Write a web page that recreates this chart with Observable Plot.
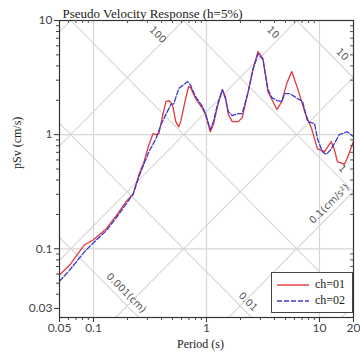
<!DOCTYPE html>
<html>
<head>
<meta charset="utf-8">
<script src="https://cdn.jsdelivr.net/npm/d3@7"></script>
<script src="https://cdn.jsdelivr.net/npm/@observablehq/plot@0.6"></script>
<style>
  html, body { margin: 0; padding: 0; background: #fff; }
  #wrap { position: relative; width: 360px; height: 356px; overflow: hidden; }
  #wrap > svg { display: block; }
  #legend { position: absolute; left: 271px; top: 272px; width: 80px; height: 39px; border: 1px solid #444; background: #fff; font-family: "Liberation Serif", serif; font-size: 12px; color: #222; }
  #legend .row { position: absolute; left: 4px; display: flex; align-items: center; }
  #legend svg { margin-right: 5px; }
</style>
</head>
<body>
<div id="wrap"></div>
<script>
// Data
const title = "Pseudo Velocity Response (h=5%)";
const xLabel = "Period (s)";
const yLabel = "pSv (cm/s)";
const seriesNames = ["ch=01", "ch=02"];

const periods01 = [0.05,0.0615,0.083,0.1,0.13,0.159,0.195,0.224,0.253,0.28,0.31,0.336,0.357,0.379,0.411,0.437,0.464,0.5,0.535,0.568,0.591,0.654,0.695,0.724,0.801,0.922,0.98,1.08,1.15,1.25,1.38,1.47,1.56,1.69,1.91,2.07,2.34,2.58,2.86,3.16,3.5,3.87,4.2,4.64,5.13,5.68,6.41,7.39,8.51,9.6,11.1,12.7,13.5,14.4,16.6,17.6,20];
const psv01 = [0.059,0.072,0.108,0.12,0.15,0.195,0.26,0.303,0.45,0.58,0.82,1.02,1.0,1.02,1.5,1.95,1.99,1.83,1.3,1.17,1.3,2.07,2.64,2.58,2.07,1.69,1.5,1.06,1.22,1.76,2.48,2.15,1.5,1.3,1.3,1.41,2.38,3.79,5.35,4.64,2.38,1.95,1.66,1.95,2.8,3.57,2.53,1.59,1.13,0.75,0.71,0.87,0.75,0.58,0.55,0.62,0.87];

const periods02 = [0.05,0.0615,0.083,0.1,0.13,0.159,0.195,0.224,0.253,0.28,0.31,0.357,0.395,0.437,0.483,0.514,0.568,0.628,0.681,0.724,0.801,0.922,0.98,1.08,1.15,1.25,1.38,1.47,1.56,1.69,1.91,2.07,2.34,2.58,2.86,3.16,3.5,3.79,4.2,4.64,4.93,5.46,6.41,7.1,7.85,9.04,9.6,10.6,11.5,12.7,15.0,17.6,20];
const psv02 = [0.052,0.065,0.094,0.113,0.144,0.187,0.248,0.3,0.43,0.557,0.71,0.92,1.22,1.5,1.83,1.87,2.53,2.75,2.92,2.69,2.15,1.76,1.53,1.11,1.3,1.83,2.48,2.07,1.59,1.47,1.53,1.53,2.38,3.72,5.13,4.54,2.48,2.11,1.99,1.95,2.29,2.29,2.07,1.95,1.3,1.25,0.92,0.71,0.67,0.75,1.0,1.06,0.96];

const xMajor = [0.05, 0.1, 1, 10, 20];
const xMajorLabels = ["0.05", "0.1", "1", "10", "20"];
const yMajor = [0.03, 0.1, 1, 10];
const yMajorLabels = ["0.03", "0.1", "1", "10"];
const xGrid = [0.1, 1, 10];
const yGrid = [0.1, 1];
const dispValues = [0.001, 0.01, 0.1, 1, 10];        // cm
const accValues = [0.01, 0.1, 1, 10, 100, 1000];      // cm/s^2

// diagonal labels: text, family ("A" acceleration / "D" displacement), value, period where it sits
const diagText = ["100", "10", "0.1(cm/s\u00B2)", "10", "1", "0.01", "0.001(cm)"];
const diagKind = ["A", "A", "A", "D", "D", "D", "D"];
const diagValue = [100, 10, 0.1, 10, 1, 0.01, 0.001];
const diagPeriod = [0.37, 3.87, 12.2, 15.9, 15.9, 2.33, 0.195];

const xDomain = [0.05, 20];
const yDomain = [0.025, 10];

// build tables
const s01 = periods01.map((t, i) => ({T: t, v: psv01[i]}));
const s02 = periods02.map((t, i) => ({T: t, v: psv02[i]}));
const TWO_PI = 2 * Math.PI;
const diag = [];
dispValues.forEach(d => xDomain.forEach(t => diag.push({k: "D" + d, T: t, v: TWO_PI * d / t})));
accValues.forEach(a => xDomain.forEach(t => diag.push({k: "A" + a, T: t, v: a * t / TWO_PI})));
const labelRows = diagText.map((txt, i) => {
  const kind = diagKind[i], val = diagValue[i], t = diagPeriod[i];
  return {txt, T: t, v: kind === "D" ? TWO_PI * val / t : val * t / TWO_PI,
          rot: kind === "A" && txt.length > 4 ? -45 : 45};
});
const xTickRows = xMajor.map((v, i) => ({v, label: xMajorLabels[i]}));
const yTickRows = yMajor.map((v, i) => ({v, label: yMajorLabels[i]}));

const minorX = [];
for (let e = -2; e <= 1; e++) for (let m = 1; m <= 9; m++) {
  const v = m * Math.pow(10, e);
  if (v > xDomain[0] * 1.001 && v < xDomain[1] * 0.999 && !xMajor.some(M => Math.abs(M - v) < 1e-9)) minorX.push(v);
}
const minorY = [];
for (let e = -2; e <= 0; e++) for (let m = 1; m <= 9; m++) {
  const v = m * Math.pow(10, e);
  if (v > yDomain[0] && v < yDomain[1] && !yMajor.some(M => Math.abs(M - v) < 1e-9)) minorY.push(v);
}

const gridColor = "#d6d6d6";
const tickFont = "Lato, sans-serif";

const chart = Plot.plot({
  width: 360,
  height: 356,
  marginLeft: 59,
  marginRight: 7,
  marginTop: 20,
  marginBottom: 39,
  style: {fontFamily: tickFont, fontSize: "12px", color: "#333", background: "#fff"},
  x: {type: "log", domain: xDomain, axis: null},
  y: {type: "log", domain: yDomain, axis: null},
  marks: [
    Plot.ruleX(xGrid, {stroke: gridColor, strokeWidth: 1.2}),
    Plot.ruleY(yGrid, {stroke: gridColor, strokeWidth: 1.2}),
    Plot.line(diag, {x: "T", y: "v", z: "k", stroke: gridColor, strokeWidth: 1.1, clip: true}),
    Plot.text(labelRows, {x: "T", y: "v", text: "txt", rotate: "rot", dy: -12,
      fill: "#555", fontFamily: "DejaVu Sans, sans-serif", fontSize: 10}),
    Plot.line(s01, {x: "T", y: "v", stroke: "#e3383b", strokeWidth: 1.3, clip: true}),
    Plot.line(s02, {x: "T", y: "v", stroke: "#3a3ad0", strokeWidth: 1.3, strokeDasharray: "5,2", clip: true}),
    Plot.frame({stroke: "#333", strokeWidth: 1.2}),
    // x axis: ticks + labels
    Plot.tickX(xMajor, {x: d => d, insetTop: 297, insetBottom: -5, stroke: "#333"}),
    Plot.tickX(minorX, {x: d => d, insetTop: 297, insetBottom: -3, stroke: "#444"}),
    Plot.text(xTickRows, {x: "v", text: "label", frameAnchor: "bottom", dy: 14, fill: "#444", fontFamily: tickFont, fontSize: 12}),
    // y axis: ticks + labels
    Plot.tickY(yMajor, {y: d => d, insetRight: 294, insetLeft: -5, stroke: "#333"}),
    Plot.tickY(minorY, {y: d => d, insetRight: 294, insetLeft: -3, stroke: "#444"}),
    Plot.text(yTickRows, {y: "v", text: "label", frameAnchor: "left", dx: -7, textAnchor: "end", fill: "#444", fontFamily: tickFont, fontSize: 12}),
    // inner ticks on top and right edges
    Plot.tickX(minorX, {x: d => d, insetBottom: 294, stroke: "#555"}),
    Plot.tickY(minorY, {y: d => d, insetLeft: 291, stroke: "#555"}),
    Plot.text([title], {frameAnchor: "top-left", dx: 3, dy: -3, lineAnchor: "bottom", textAnchor: "start",
      fontFamily: "Liberation Serif, serif", fontSize: 13, fill: "#222"}),
    Plot.text([yLabel], {frameAnchor: "left", dx: -42, rotate: -90,
      fontFamily: "Liberation Serif, serif", fontSize: 12, fill: "#222"}),
    Plot.text([xLabel], {frameAnchor: "bottom", dx: -6, dy: 30,
      fontFamily: "Liberation Serif, serif", fontSize: 12, fill: "#222"})
  ]
});

const wrap = document.getElementById("wrap");
wrap.appendChild(chart);

const legend = document.createElement("div");
legend.id = "legend";
const styles = [{stroke: "#e3383b", dash: ""}, {stroke: "#3a3ad0", dash: "5,2"}];
seriesNames.forEach((name, i) => {
  const row = document.createElement("div");
  row.className = "row";
  row.style.top = (i === 0 ? 4 : 20) + "px";
  row.innerHTML = `<svg width="34" height="14"><line x1="1" y1="7" x2="33" y2="7" stroke="${styles[i].stroke}" stroke-width="1.4" ${styles[i].dash ? `stroke-dasharray="${styles[i].dash}"` : ""}/></svg><span>${name}</span>`;
  legend.appendChild(row);
});
wrap.appendChild(legend);
</script>
</body>
</html>
